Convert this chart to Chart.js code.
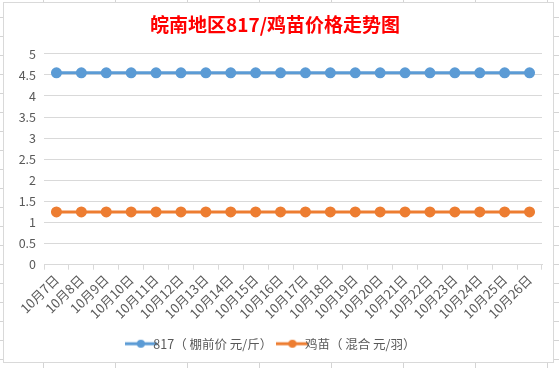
<!DOCTYPE html>
<html>
<head>
<meta charset="utf-8">
<script src="https://cdn.jsdelivr.net/npm/chart.js@4"></script>
<style>
  html, body { margin: 0; padding: 0; }
  body {
    width: 559px; height: 368px; overflow: hidden;
    background-color: #fff;
    background-image:
      linear-gradient(to right, #d4d4d4 1px, transparent 1px),
      linear-gradient(to bottom, #d4d4d4 1px, transparent 1px);
    background-size: 72px 19px;
    background-position: 43px 17px;
  }
  #box {
    position: absolute; left: 3px; top: 2px; width: 549px; height: 359px;
    background: #fff; border: 1px solid #d9d9d9;
  }
</style>
</head>
<body>
<div id="box"><canvas id="chart"></canvas></div>
<script>
const categories = ["10月7日", "10月8日", "10月9日", "10月10日", "10月11日", "10月12日", "10月13日",
  "10月14日", "10月15日", "10月16日", "10月17日", "10月18日", "10月19日", "10月20日",
  "10月21日", "10月22日", "10月23日", "10月24日", "10月25日", "10月26日"];
const price817 = [4.55, 4.55, 4.55, 4.55, 4.55, 4.55, 4.55, 4.55, 4.55, 4.55,
  4.55, 4.55, 4.55, 4.55, 4.55, 4.55, 4.55, 4.55, 4.55, 4.55];
const chickPrice = [1.25, 1.25, 1.25, 1.25, 1.25, 1.25, 1.25, 1.25, 1.25, 1.25,
  1.25, 1.25, 1.25, 1.25, 1.25, 1.25, 1.25, 1.25, 1.25, 1.25];
const yTicks = [0, 0.5, 1, 1.5, 2, 2.5, 3, 3.5, 4, 4.5, 5];
const yTickLabels = ["0", "0.5", "1", "1.5", "2", "2.5", "3", "3.5", "4", "4.5", "5"];

const fontColor = "#595959";
const cjk = "'Noto Sans CJK SC', 'Noto Sans', sans-serif";

// little line+dot swatch for the legend, like Excel
function swatch(color) {
  const c = document.createElement("canvas");
  c.width = 32; c.height = 10;
  const g = c.getContext("2d");
  g.strokeStyle = color; g.lineWidth = 3;
  g.beginPath(); g.moveTo(0, 5); g.lineTo(32, 5); g.stroke();
  g.fillStyle = color;
  g.beginPath(); g.arc(16, 5, 4, 0, Math.PI * 2); g.fill();
  return c;
}

new Chart(document.getElementById("chart"), {
  type: "line",
  data: {
    labels: categories,
    datasets: [
      {
        label: "817（ 棚前价 元/斤）",
        data: price817,
        borderColor: "#5B9BD5",
        backgroundColor: "#5B9BD5",
        borderWidth: 3,
        pointRadius: 4,
        pointHoverRadius: 4,
        tension: 0,
      },
      {
        label: "鸡苗（ 混合 元/羽）",
        data: chickPrice,
        borderColor: "#ED7D31",
        backgroundColor: "#ED7D31",
        borderWidth: 3,
        pointRadius: 4,
        pointHoverRadius: 4,
        tension: 0,
      },
    ],
  },
  options: {
    responsive: true,
    maintainAspectRatio: false,
    animation: false,
    layout: { padding: { left: 4, right: 11, top: 0, bottom: 2 } },
    scales: {
      x: {
        offset: true,
        grid: { drawOnChartArea: false, drawTicks: true, tickLength: 5, color: "#d9d9d9", offset: true },
        border: { color: "#d9d9d9" },
        ticks: {
          color: fontColor,
          font: { size: 13, family: cjk },
          maxRotation: 45,
          minRotation: 45,
          autoSkip: false,
          padding: 2,
        },
      },
      y: {
        min: 0,
        max: 5,
        afterBuildTicks: (scale) => {
          scale.ticks = yTicks.map((v) => ({ value: v }));
        },
        afterFit: (scale) => {
          scale.width = 36;
        },
        grid: { drawTicks: false, color: "#d9d9d9" },
        border: { display: false },
        ticks: {
          color: fontColor,
          font: { size: 12.5, family: cjk },
          padding: 8,
          callback: (value, i) => yTickLabels[i],
        },
      },
    },
    plugins: {
      title: {
        display: true,
        text: "皖南地区817/鸡苗价格走势图",
        color: "#ff0000",
        font: { size: 19, weight: "bold", family: cjk },
        padding: { top: 10, bottom: 18 },
      },
      legend: {
        position: "bottom",
        labels: {
          color: fontColor,
          font: { size: 12.5, family: cjk },
          usePointStyle: true,
          boxWidth: 32,
          boxHeight: 10,
          padding: 14,
          generateLabels: (chart) => {
            const items = Chart.defaults.plugins.legend.labels.generateLabels(chart);
            items.forEach((it, i) => {
              it.pointStyle = swatch(chart.data.datasets[i].borderColor);
            });
            return items;
          },
        },
      },
      tooltip: { enabled: false },
    },
  },
});
</script>
</body>
</html>
